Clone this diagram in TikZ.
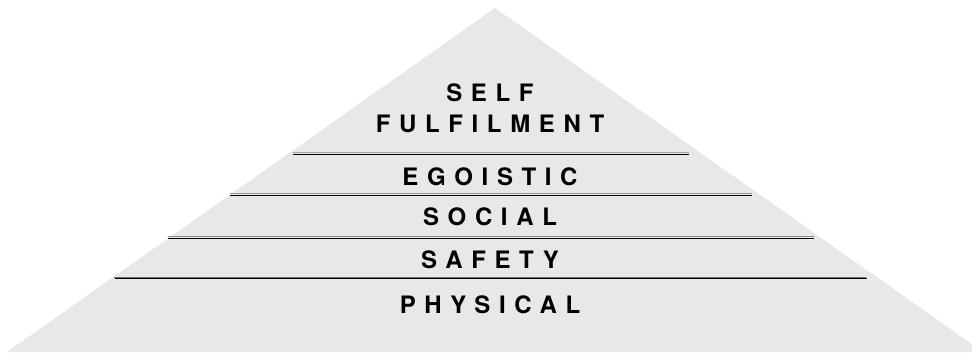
\documentclass[tikz,border=0pt]{standalone}
\usepackage{fontspec}
\setmainfont{Liberation Sans}
\newfontfamily\pyrfont[LetterSpace=36, Extension=.otf, UprightFont=texgyreheros-bold, BoldFont=texgyreheros-bold]{texgyreheros}
\definecolor{pyrfill}{HTML}{E8E8E8}
\definecolor{lineA}{HTML}{A4A4A4}
\definecolor{lineB}{HTML}{9A9A9A}
\definecolor{lineC}{HTML}{8A8A8A}
\definecolor{lineD}{HTML}{6E6E6E}
\definecolor{shade}{HTML}{BDBDBD}
\begin{document}
\begin{tikzpicture}[x=1pt,y=-1pt,
  lbl/.style={inner sep=0pt, anchor=base, font=\fontsize{24}{28}\pyrfont},
  tier/.style={line width=1.1pt},
  tiershade/.style={line width=0.9pt, shade}]
\useasboundingbox (0,0) rectangle (972,353);
\clip (0,0) rectangle (972,353);
\fill[pyrfill] (7,352) -- (495,8) -- (983,352) -- cycle;
% tier lines
\draw[tiershade] (293,154) -- (689,154);
\draw[tier, lineA] (293,152.8) -- (689,152.8);
\draw[tiershade] (230,195) -- (752,195);
\draw[tier, lineB] (230,193.8) -- (752,193.8);
\draw[tiershade] (168,238) -- (814,238);
\draw[tier, lineC] (168,236.8) -- (814,236.8);
\draw[tiershade] (115,278.8) -- (867,278.8);
\draw[tier, lineD] (114,277.5) -- (866,277.5);
% labels
\node[lbl] (self) at (490,101) {SELF};
\node[lbl] (fulfil) at (490,132) {FULFILMENT};
\node[lbl] (ego) at (490,185) {EGOISTIC};
\node[lbl] (social) at (490,225) {SOCIAL};
\node[lbl] (safety) at (490,268) {SAFETY};
\node[lbl] (physical) at (490,313) {PHYSICAL};
\end{tikzpicture}
\end{document}
